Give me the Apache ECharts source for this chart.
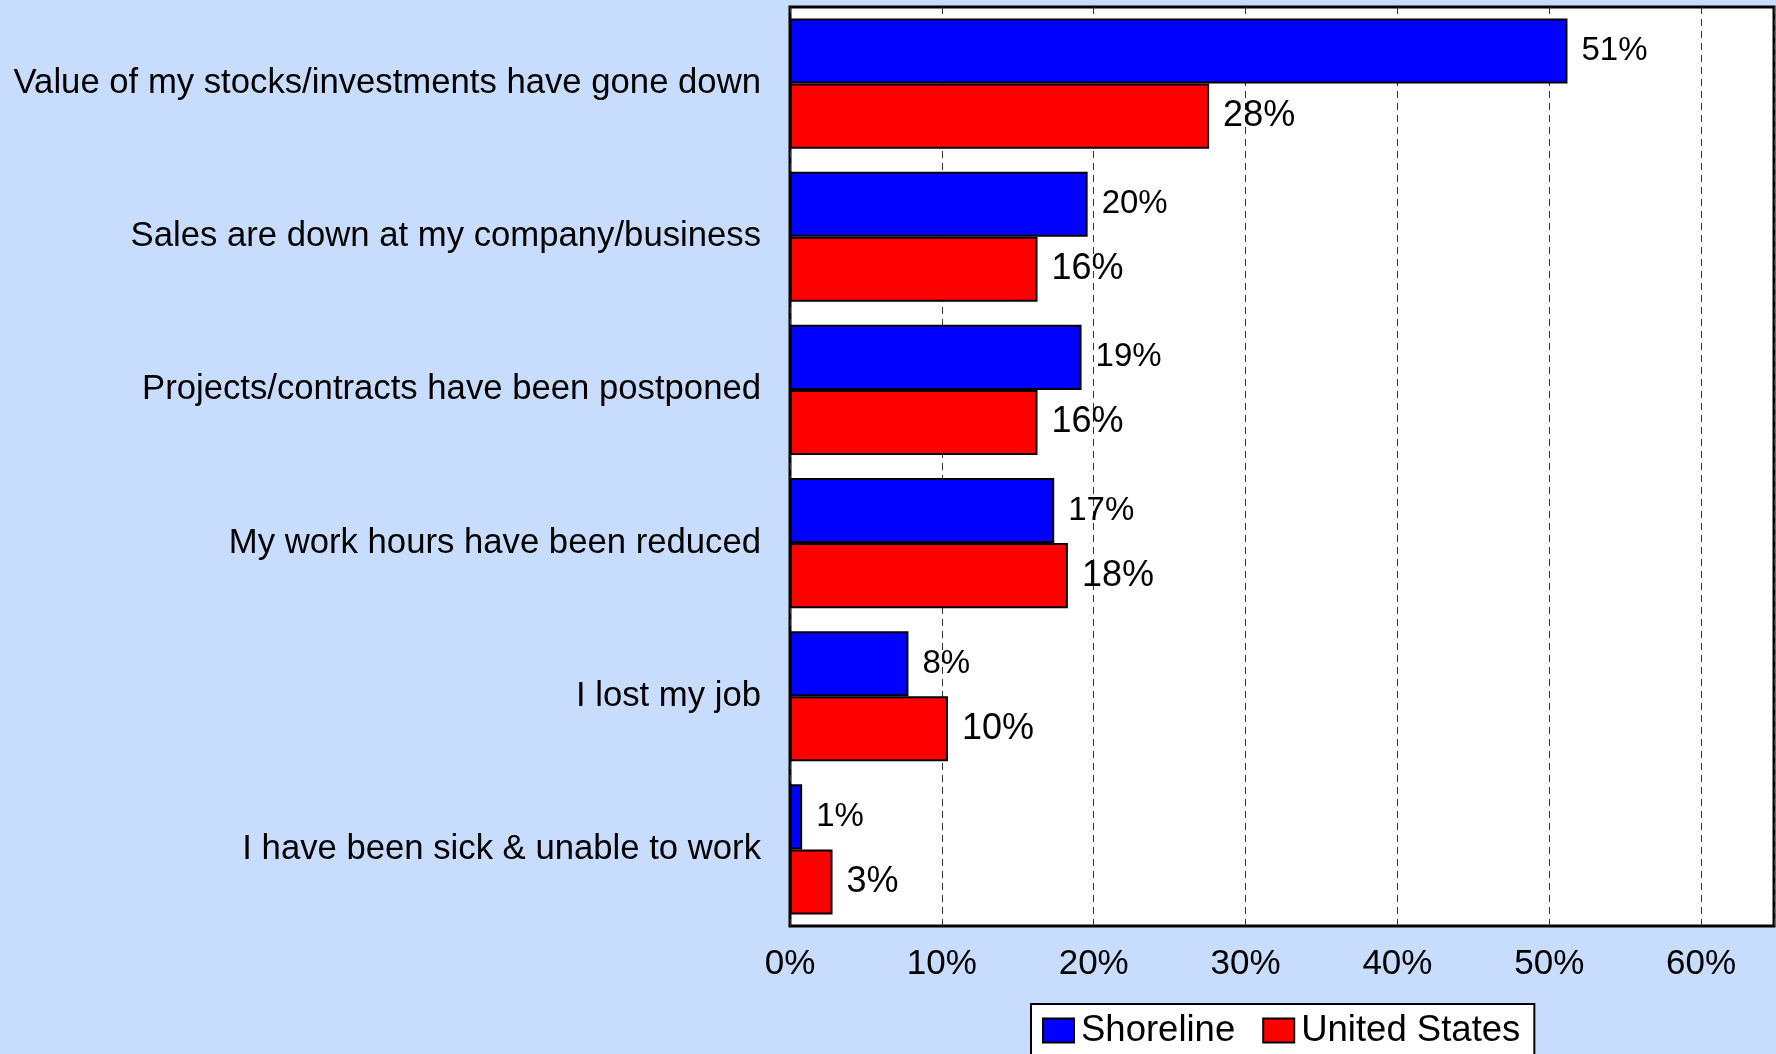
<!DOCTYPE html>
<html>
<head>
<meta charset="utf-8">
<script src="https://cdn.jsdelivr.net/npm/echarts@6/dist/echarts.min.js"></script>
<style>
  html, body { margin: 0; padding: 0; background: #C8DCFE; }
  #chart { width: 1776px; height: 1054px; }
</style>
</head>
<body>
<div id="chart"></div>
<script>
// categories, top to bottom
const categories = [
  'Value of my stocks/investments have gone down',
  'Sales are down at my company/business',
  'Projects/contracts have been postponed',
  'My work hours have been reduced',
  'I lost my job',
  'I have been sick & unable to work'
];
// percent values
const shoreline = [51.2, 19.6, 19.2, 17.4, 7.8, 0.8];
const unitedStates = [27.6, 16.3, 16.3, 18.3, 10.4, 2.8];

const FONT = "'Liberation Sans', Arial, sans-serif";

const chart = echarts.init(document.getElementById('chart'));

const pctLabel = (size, dist) => ({
  show: true,
  position: 'right',
  distance: dist,
  color: '#000',
  fontFamily: FONT,
  fontSize: size,
  padding: [6, 0, 0, 0],
  formatter: p => Math.round(p.value) + '%'
});

chart.setOption({
  backgroundColor: '#C8DCFE',
  animation: false,
  grid: {
    left: 790, top: 7, right: 2, bottom: 128,
    show: true,
    backgroundColor: '#fff',
    borderColor: '#000',
    borderWidth: 3
  },
  legend: {
    left: 1031, top: 1004,
    padding: [8, 14, 12, 11],
    backgroundColor: '#fff',
    borderColor: '#000',
    borderWidth: 2,
    icon: 'rect',
    itemWidth: 31, itemHeight: 24, itemGap: 27,
    itemStyle: { borderColor: '#000', borderWidth: 2 },
    textStyle: { fontFamily: FONT, fontSize: 36.5, color: '#000', lineHeight: 36, padding: [0, 0, 0, 2] },
    data: ['Shoreline', 'United States']
  },
  xAxis: {
    type: 'value',
    min: 0, max: 64.8, interval: 10,
    axisLine: { show: false },
    axisTick: { show: false },
    axisLabel: {
      color: '#000', fontFamily: FONT, fontSize: 35, margin: 21,
      showMaxLabel: false,
      formatter: '{value}%'
    },
    splitLine: { show: true, lineStyle: { color: '#333', width: 1, type: [7, 5] } }
  },
  yAxis: {
    type: 'category',
    inverse: true,
    data: categories,
    axisLine: { show: false },
    axisTick: { show: false },
    axisLabel: { color: '#000', fontFamily: FONT, fontSize: 34.7, margin: 29, padding: [5, 0, 0, 0] }
  },
  series: [
    {
      name: 'Shoreline', type: 'bar', data: shoreline,
      barGap: '0%', barCategoryGap: '15%',
      itemStyle: { color: '#0000FF', borderColor: '#000', borderWidth: 2 },
      label: pctLabel(33, 14)
    },
    {
      name: 'United States', type: 'bar', data: unitedStates,
      barGap: '0%', barCategoryGap: '15%',
      itemStyle: { color: '#FF0000', borderColor: '#000', borderWidth: 2 },
      label: pctLabel(36, 14)
    }
  ]
});
</script>
</body>
</html>
